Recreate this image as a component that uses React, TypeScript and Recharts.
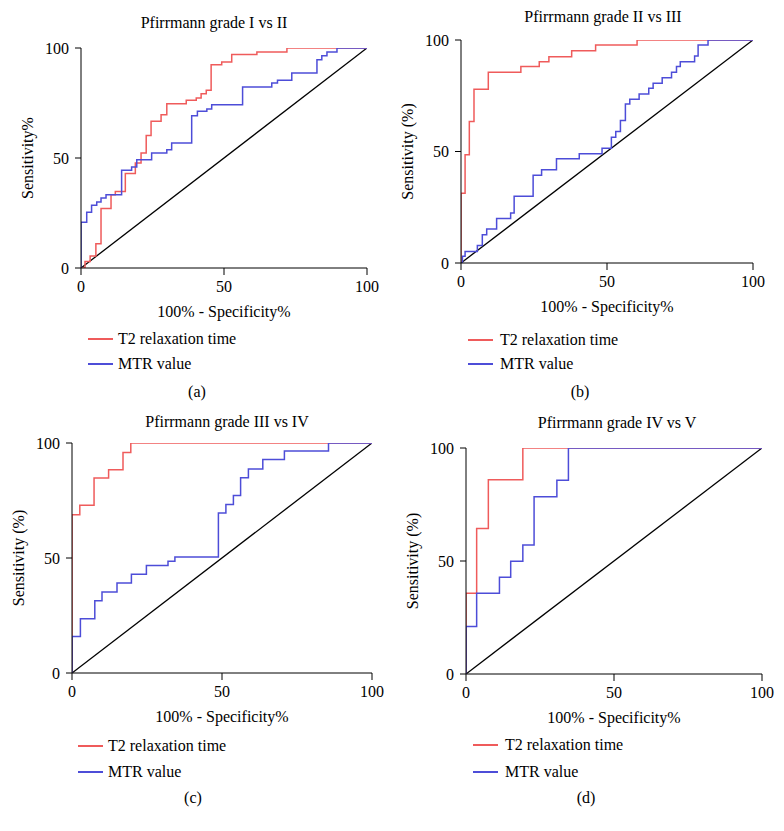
import React from "react";
import { LineChart, Line, XAxis, YAxis } from "recharts";

const FONT = '"Liberation Serif", "DejaVu Serif", serif';
const RED = "#ef5b5b";
const BLUE = "#4d4dd8";

type Pt = [number, number];

// ROC points [100% - specificity, sensitivity]
const T2_A: Pt[] = [[0,0],[1.4,3],[3.2,5.5],[5.2,11],[7,27],[10.5,33.3],[12,34.8],[15.5,43],[19,47.7],[21,52.3],[22.8,60.2],[24.5,66.7],[28,69.7],[30,74.7],[36.8,76.2],[40.3,77.3],[42,79.2],[43.8,80.8],[45.5,92.4],[49.2,93.6],[52.7,97],[61.5,98.2],[72,100],[100,100]];
const MTR_A: Pt[] = [[0,0],[0,20.8],[2,25.3],[3.7,28.5],[5.5,30],[7,31.8],[8.75,33.3],[14.2,44.4],[17.7,45.9],[19.5,49.2],[24.7,52.3],[30,53.8],[31.7,56.8],[38.7,69.2],[40.7,71.2],[44,72.3],[45.7,74.2],[56.5,82.3],[66.7,84.1],[68.7,85.3],[73.7,88.6],[82.5,94.7],[84.2,96.5],[86,98.2],[89.5,100],[100,100]];

const T2_B: Pt[] = [[0,0],[0,31.3],[1.4,48.5],[2.85,63.4],[4.45,77.9],[9.35,85.5],[20.5,88.1],[26.8,90.3],[30.1,92.5],[37.9,95.2],[46.1,97.8],[60.3,100],[100,100]];
const MTR_B: Pt[] = [[0,0],[0.5,3],[1.4,5.2],[5.6,7.8],[7.3,12.7],[8.8,15.2],[12.2,19.9],[17,22.4],[18.2,29.9],[24.7,39.3],[27.6,41.8],[32.7,46.7],[40.5,49],[48.3,51.5],[51.5,56.4],[53,59],[54.6,63.9],[56.3,71.3],[57.8,73.4],[61,75.8],[64.3,78.4],[65.8,80.6],[68.9,83.1],[72.1,85.5],[73.8,88.1],[75.1,90.3],[80,92.8],[81.2,97.8],[84.6,100],[100,100]];

const T2_C: Pt[] = [[0,0],[0,68.8],[2.6,72.9],[7.35,84.8],[12.2,88.4],[17,95.9],[19.6,100],[100,100]];
const MTR_C: Pt[] = [[0,0],[0,15.9],[2.8,23.6],[7.6,31.4],[10,35.2],[15,39.1],[19.8,42.9],[24.8,46.7],[32,48.6],[34.3,50.4],[46.8,50.4],[48.8,69.6],[51.3,73.3],[53.8,77.2],[56.2,84.9],[58.8,88.7],[63.6,92.8],[70.8,96.5],[85.5,100],[100,100]];

const T2_D: Pt[] = [[0,0],[0,35.7],[3.6,64.4],[7.55,86],[19.2,100],[100,100]];
const MTR_D: Pt[] = [[0,0],[0,21],[3.6,35.7],[11.3,42.8],[15.1,49.9],[19.2,57.1],[23,78.4],[30.7,85.7],[34.6,100],[100,100]];

const DIAG: Pt[] = [[0,0],[100,100]];
const TICKS = [0, 50, 100];
const SERIES_NAMES = ["T2 relaxation time", "MTR value"];
const X_LABEL = "100% - Specificity%";

const toRows = (pts: Pt[]) => pts.map(([x, y]) => ({ x, y }));

const YW = 70;

function Panel(props: {
  plotLeft: number; plotTop: number; plotW: number; plotH: number;
  t2: Pt[]; mtr: Pt[]; yLabel: string;
}) {
  const { plotLeft, plotTop, plotW, plotH, t2, mtr, yLabel } = props;
  const W = YW + plotW + 15;
  const H = 10 + plotH + 50 + 12;
  const tickStyle = { fontSize: 16, fill: "#000", fontFamily: FONT };
  return (
    <div style={{ position: "absolute", left: plotLeft - YW, top: plotTop - 10 }}>
      <LineChart width={W} height={H} margin={{ top: 10, right: 15, bottom: 12, left: 0 }} style={{ overflow: "visible" }}>
        <XAxis
          type="number" dataKey="x" domain={[0, 100]} ticks={TICKS} height={50}
          tick={tickStyle} tickSize={7} tickMargin={6}
          stroke="#000" axisLine={{ stroke: "#000" }} tickLine={{ stroke: "#000" }}
          allowDataOverflow
          label={{ value: X_LABEL, position: "insideBottom", offset: 1, style: { fontSize: 16, fill: "#000", fontFamily: FONT } }}
        />
        <YAxis
          type="number" dataKey="y" domain={[0, 100]} ticks={TICKS} width={YW}
          tick={tickStyle} tickSize={6} tickMargin={6}
          stroke="#000" axisLine={{ stroke: "#000" }} tickLine={{ stroke: "#000" }}
          allowDataOverflow
          label={{ value: yLabel, angle: -90, position: "insideLeft", offset: 16, style: { textAnchor: "middle", fontSize: 16, fill: "#000", fontFamily: FONT } }}
        />
        <Line data={toRows(DIAG)} dataKey="y" type="linear" stroke="#000" strokeWidth={1.3} dot={false} activeDot={false} isAnimationActive={false} />
        <Line data={toRows(t2)} dataKey="y" type="stepAfter" stroke={RED} strokeWidth={1.5} dot={false} activeDot={false} isAnimationActive={false} />
        <Line data={toRows(mtr)} dataKey="y" type="stepAfter" stroke={BLUE} strokeWidth={1.5} dot={false} activeDot={false} isAnimationActive={false} />
      </LineChart>
    </div>
  );
}

function Txt(props: { x: number; y: number; children: React.ReactNode; anchor?: "middle" | "start" }) {
  const { x, y, children, anchor = "middle" } = props;
  return (
    <div
      style={{
        position: "absolute", left: x, top: y, whiteSpace: "nowrap",
        transform: anchor === "middle" ? "translate(-50%, -50%)" : "translate(0, -50%)",
        fontFamily: FONT, fontSize: 16, lineHeight: "18px", color: "#000",
      }}
    >
      {children}
    </div>
  );
}

function Legend(props: { lineX: number; textX: number; y1: number; y2: number }) {
  const { lineX, textX, y1, y2 } = props;
  return (
    <>
      <div style={{ position: "absolute", left: lineX, top: y1 - 1, width: 25, height: 1.5, background: RED }} />
      <Txt x={textX} y={y1} anchor="start">{SERIES_NAMES[0]}</Txt>
      <div style={{ position: "absolute", left: lineX, top: y2 - 1, width: 25, height: 1.5, background: BLUE }} />
      <Txt x={textX} y={y2} anchor="start">{SERIES_NAMES[1]}</Txt>
    </>
  );
}

export default function App() {
  return (
    <div style={{ position: "absolute", left: 0, top: 0, width: 784, height: 831, background: "#fff", overflow: "hidden" }}>
      <Txt x={214} y={23}>Pfirrmann grade I vs II</Txt>
      <Txt x={603} y={17}>Pfirrmann grade II vs III</Txt>
      <Txt x={227} y={422}>Pfirrmann grade III vs IV</Txt>
      <Txt x={617} y={423}>Pfirrmann grade IV vs V</Txt>

      <Panel plotLeft={81} plotTop={48} plotW={286} plotH={220} t2={T2_A} mtr={MTR_A} yLabel="Sensitivity%" />
      <Panel plotLeft={461} plotTop={40} plotW={292} plotH={223} t2={T2_B} mtr={MTR_B} yLabel="Sensitivity (%)" />
      <Panel plotLeft={72} plotTop={443} plotW={300} plotH={230} t2={T2_C} mtr={MTR_C} yLabel="Sensitivity (%)" />
      <Panel plotLeft={466} plotTop={448} plotW={296} plotH={226} t2={T2_D} mtr={MTR_D} yLabel="Sensitivity (%)" />

      <Legend lineX={88} textX={118} y1={339} y2={364} />
      <Legend lineX={468} textX={500} y1={340} y2={364} />
      <Legend lineX={78} textX={108} y1={746} y2={772} />
      <Legend lineX={473} textX={505} y1={745} y2={772} />

      <Txt x={197} y={392}>(a)</Txt>
      <Txt x={580} y={392}>(b)</Txt>
      <Txt x={193} y={798}>(c)</Txt>
      <Txt x={586} y={798}>(d)</Txt>
    </div>
  );
}
